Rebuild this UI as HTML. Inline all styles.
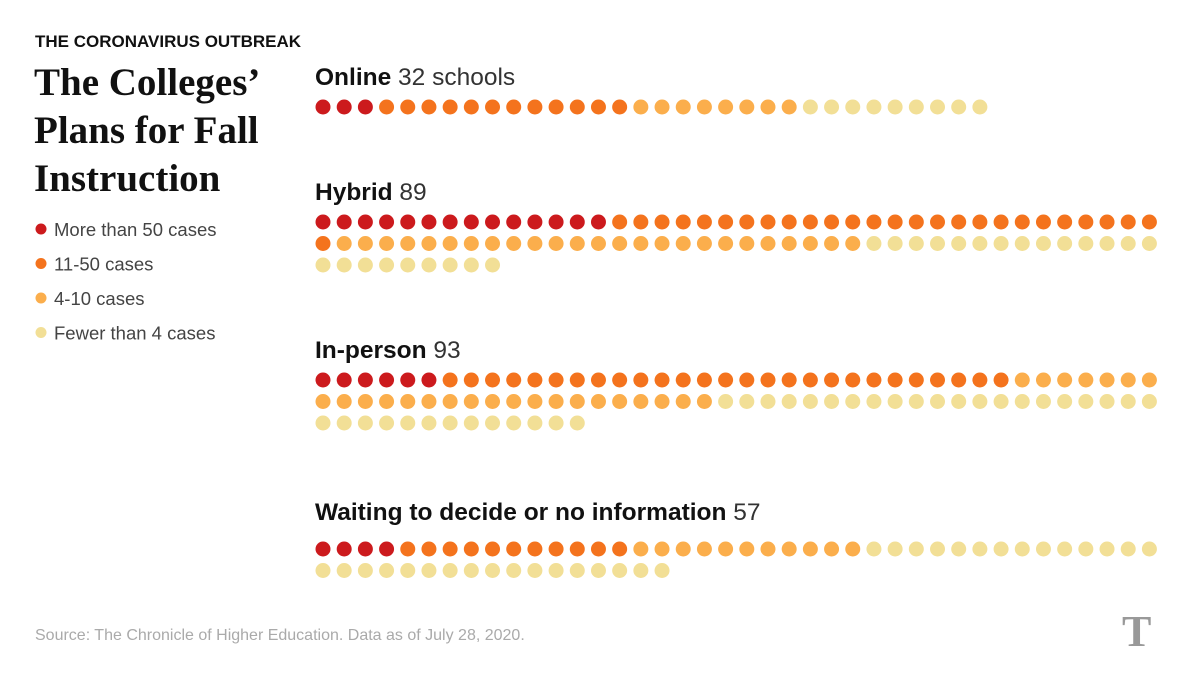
<!DOCTYPE html>
<html><head><meta charset="utf-8"><style>
body{margin:0;background:#fff;width:1200px;height:675px;overflow:hidden;font-family:"Liberation Sans",sans-serif}
svg{display:block}
</style></head><body>
<svg id="c" width="1200" height="675">
<text x="35" y="47" font-size="17" font-weight="bold" fill="#111">THE CORONAVIRUS OUTBREAK</text>
<g font-family="Liberation Serif,serif" font-weight="bold" font-size="39" fill="#111">
<text x="34" y="95">The Colleges’</text><text x="34" y="143">Plans for Fall</text><text x="34" y="191">Instruction</text></g>
<g id="legend"></g>
<g id="groups"></g>
<text x="35" y="640" font-size="16" fill="#aaa">Source: The Chronicle of Higher Education. Data as of July 28, 2020.</text>
<text x="1122" y="646" font-family="Liberation Serif,serif" font-weight="bold" font-size="44" fill="#999">T</text>
</svg>
<script>
const categories=["Online","Hybrid","In-person","Waiting to decide or no information"];
const suffixes=[" 32 schools"," 89"," 93"," 57"];
const over50=[3,14,6,4];
const c11to50=[12,27,27,11];
const c4to10=[8,25,26,11];
const under4=[9,23,34,31];
const legendLabels=["More than 50 cases","11-50 cases","4-10 cases","Fewer than 4 cases"];
const colors=["#cc1a1d","#f4731d","#fbae4c","#f2df96"];
const labelY=[85,200,358,520];
const firstRowY=[107,222,380,549];
const ns="http://www.w3.org/2000/svg";
function mk(t,a){const e=document.createElementNS(ns,t);for(const k in a)e.setAttribute(k,a[k]);return e;}
const lg=document.getElementById('legend');
legendLabels.forEach((l,i)=>{
 const y=229+i*34.5;
 const d=mk('circle',{cx:41,cy:y,r:5.5,fill:colors[i]});
 
 
 lg.appendChild(d);
 const t=mk('text',{x:54,y:y+7,'font-size':18.5,fill:'#444'});
 t.textContent=l;
 
 
 lg.appendChild(t);
});
const G=document.getElementById('groups');
const x0=323,dx=21.19,dy=21.5,perRow=40,r=7.5;
categories.forEach((cat,gi)=>{
 const g=mk('g',{});
 
 
 G.appendChild(g);
 const t=mk('text',{x:315,y:labelY[gi],'font-size':24.5,fill:'#111'});
 t.innerHTML='<tspan font-weight="bold">'+cat+'</tspan><tspan fill="#333">'+suffixes[gi]+'</tspan>';
 
 
 g.appendChild(t);
 const counts=[over50[gi],c11to50[gi],c4to10[gi],under4[gi]];
 let n=0;
 counts.forEach((cnt,ci)=>{
  for(let k=0;k<cnt;k++){
   const col=n%perRow,row=Math.floor(n/perRow);
   const d=mk('circle',{cx:x0+col*dx,cy:firstRowY[gi]+row*dy,r:r,fill:colors[ci]});
   
   
   g.appendChild(d);n++;
  }
 });
});
</script>
</body></html>
